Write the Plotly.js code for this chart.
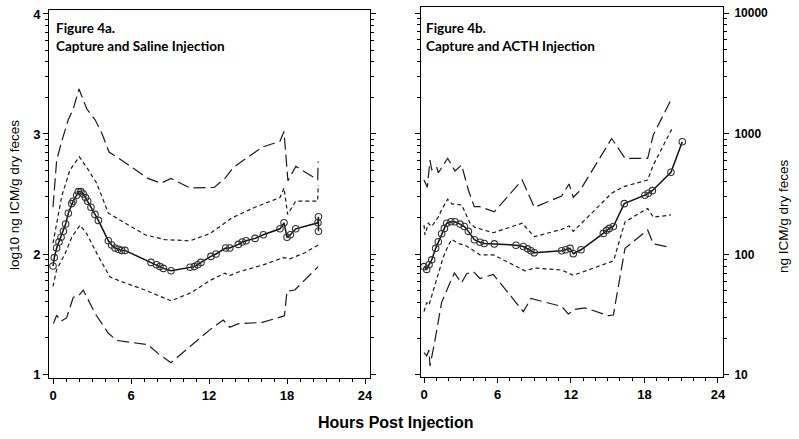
<!DOCTYPE html>
<html>
<head>
<meta charset="utf-8">
<script src="https://cdn.plot.ly/plotly-3.0.1.min.js"></script>
<style>html,body{margin:0;padding:0;background:#fff;}#chart{width:799px;height:439px;}</style>
</head>
<body>
<div id="chart"></div>
<script>
// ---------- Figure 4a: Capture and Saline Injection (log10 ng ICM/g dry feces) ----------
const aMeanX = [0,0.1,0.28,0.46,0.62,0.8,0.97,1.18,1.44,1.55,1.82,1.95,2.15,2.33,2.5,2.67,2.92,3.23,3.49,4.26,4.51,4.77,5.03,5.28,5.54,7.54,7.97,8.23,8.49,9.08,10.54,10.87,11.13,11.38,12.15,12.54,13.28,13.6,14.26,14.56,14.85,15.54,16.18,17.46,17.77,18.0,18.26,18.67,20.38,20.42,20.42];
const aMeanY = [1.90,1.97,2.05,2.10,2.14,2.19,2.25,2.34,2.42,2.44,2.49,2.52,2.52,2.50,2.47,2.44,2.39,2.33,2.28,2.11,2.075,2.05,2.04,2.03,2.03,1.93,1.91,1.895,1.88,1.86,1.89,1.895,1.91,1.93,1.98,2.0,2.05,2.05,2.08,2.10,2.11,2.13,2.16,2.21,2.26,2.14,2.16,2.21,2.26,2.31,2.19];

const aUpInX = [0,0.67,1.3,2.03,2.72,3.36,4.26,4.9,7.08,8.6,10.54,12.08,13.74,15.54,17.46,17.77,18.05,18.67,20.36,20.4];
const aUpInY = [2.09,2.48,2.70,2.81,2.70,2.59,2.34,2.30,2.16,2.12,2.11,2.17,2.30,2.39,2.47,2.55,2.33,2.44,2.44,2.575];

const aLoInX = [0,0.28,0.92,1.44,2.08,2.59,3.49,4.38,5.03,7.08,9.08,10.67,12.08,13.23,13.6,14.26,16.18,17.72,18.23,19.38,20.4];
const aLoInY = [1.73,1.87,2.0,2.14,2.24,2.17,1.98,1.81,1.78,1.70,1.61,1.68,1.78,1.84,1.82,1.85,1.91,1.97,1.96,2.01,2.075];

const aUpOutX = [0,0.28,0.67,1.18,1.56,2.0,2.59,3.23,3.74,4.31,5.03,7.3,8.3,9.08,10.54,12.4,13.23,13.87,15.03,16.1,17.46,17.77,18.07,18.68,20.36,20.4];
const aUpOutY = [2.39,2.78,2.94,3.12,3.21,3.375,3.21,3.12,3.01,2.85,2.80,2.63,2.59,2.63,2.55,2.555,2.63,2.72,2.81,2.89,2.94,3.02,2.61,2.73,2.62,2.77];

const aLoOutX = [0.03,0.28,0.62,1.05,1.56,1.95,2.33,3.23,4.26,4.9,7.3,8.1,9.08,10.7,12.08,13.1,13.6,14.26,16.1,17.8,18.0,18.6,20.4];
const aLoOutY = [1.42,1.49,1.44,1.47,1.64,1.65,1.70,1.505,1.34,1.28,1.245,1.17,1.095,1.24,1.37,1.45,1.39,1.42,1.43,1.485,1.69,1.70,1.895];

// ---------- Figure 4b: Capture and ACTH Injection (ng ICM/g dry feces) ----------
const bMeanX = [0,0.22,0.41,0.63,0.95,1.17,1.44,1.66,1.85,2.2,2.53,2.94,3.29,3.62,4.11,4.57,4.92,5.74,7.51,8.11,8.46,8.73,9.0,11.24,11.57,11.92,12.19,12.82,14.64,14.91,15.13,15.46,16.35,18.04,18.31,18.64,20.16,21.09];
const bMeanY = [79,75,82,90,112,127,148,164,181,186,186,178,170,155,132,126,123,122,119,116,111,107,103,107,109,112,101,109,149,158,164,170,263,309,321,337,479,857];

const bUpInX = [0,0.08,0.35,0.63,0.9,1.17,1.44,1.93,2.31,3.07,3.76,4.16,5.66,8.02,9.0,11.24,11.84,12.19,13.14,15.32,16.27,18.26,18.72,20.22];
const bUpInY = [175,145,181,170,186,204,234,286,261,257,181,167,151,181,140,161,172,155,193,321,363,413,550,1086];

const bLoInX = [0,0.22,0.41,1.03,1.58,1.99,2.26,2.8,3.35,3.89,4.57,5.66,8.24,9.06,11.24,12.19,15.32,15.5,16.41,18.26,18.72,20.16];
const bLoInY = [33.5,40,38,61,95,119,133,123,119,110,99,99,73,77,74,67,87,90,186,240,203,212];

const bUpOutX = [0,0.27,0.49,0.63,1.03,1.17,1.93,2.53,3.07,3.62,4.11,4.57,5.74,8.02,9.0,11.24,11.84,12.19,12.73,15.32,16.41,18.26,18.72,20.22];
const bUpOutY = [413,360,603,501,532,474,625,490,550,341,248,248,225,413,245,304,383,297,337,912,625,625,975,1963];

const bLoOutX = [0,0.22,0.41,0.49,0.9,1.44,1.99,2.48,3.07,3.48,4.03,4.57,5.66,8.11,8.73,11.24,11.78,12.33,13.14,15.05,15.46,16.41,18.26,18.72,20.16];
const bLoOutY = [15.3,14.4,16.1,11.9,19.5,40,54,70,58,69,72,63,68,33.5,43,37,32,35,36,31,31.4,112,159,122,114];

// tick labels
const xTicks = [0,6,12,18,24];
const aYTickVals = [1,2,3,4];          // log10 ng ICM/g
const bYTickVals = [10,100,1000,10000]; // ng ICM/g

const toNg = a => a.map(v => Math.pow(10, v));
// minor (log-digit) tick positions 20..90, 200..900, 2000..9000
const logMinor = [];
[10, 100, 1000].forEach(dec => { for (let d = 2; d <= 9; d++) logMinor.push(d * dec); });

const shortDash = '4px,3px';
const longDash = '12px,5px';
const lineCol = '#1a1a1a';

function band(x, y, dash, xa, ya) {
  return {x: x, y: y, xaxis: xa, yaxis: ya, mode: 'lines', type: 'scatter',
    line: {color: lineCol, width: 1.2, dash: dash}, hoverinfo: 'skip', showlegend: false};
}
function meanTrace(x, y, xa, ya) {
  return {x: x, y: y, xaxis: xa, yaxis: ya, mode: 'lines+markers', type: 'scatter',
    line: {color: '#111', width: 1.5},
    marker: {symbol: 'circle-open', size: 6.5, color: '#333', line: {width: 1.1}},
    showlegend: false};
}

const data = [
  band(aUpOutX, toNg(aUpOutY), longDash, 'x', 'y'),
  band(aLoOutX, toNg(aLoOutY), longDash, 'x', 'y'),
  band(aUpInX, toNg(aUpInY), shortDash, 'x', 'y'),
  band(aLoInX, toNg(aLoInY), shortDash, 'x', 'y'),
  meanTrace(aMeanX, toNg(aMeanY), 'x', 'y'),
  band(bUpOutX, bUpOutY, longDash, 'x2', 'y2'),
  band(bLoOutX, bLoOutY, longDash, 'x2', 'y2'),
  band(bUpInX, bUpInY, shortDash, 'x2', 'y2'),
  band(bLoInX, bLoInY, shortDash, 'x2', 'y2'),
  meanTrace(bMeanX, bMeanY, 'x2', 'y2')
];

const tickFont = {family: 'Liberation Sans, Arial, sans-serif', size: 13, weight: 'bold', color: '#000'};

const xCommon = {
  tickmode: 'array', tickvals: xTicks, ticktext: xTicks.map(String),
  ticks: 'outside', ticklen: 5, tickwidth: 1, tickcolor: '#000',
  minor: {dtick: 1, tick0: 0, ticks: 'outside', ticklen: 3, tickcolor: '#000', tickwidth: 1},
  showline: true, linecolor: '#000', linewidth: 1, mirror: true,
  showgrid: false, zeroline: false, tickfont: tickFont, fixedrange: true
};
const yCommon = {
  type: 'log', ticks: 'outside', ticklen: 5, tickwidth: 1, tickcolor: '#000',
  minor: {tickmode: 'array', tickvals: logMinor, ticks: 'outside', ticklen: 3, tickcolor: '#000', tickwidth: 1, showgrid: false},
  showline: true, linecolor: '#000', linewidth: 1, mirror: 'allticks',
  showgrid: false, zeroline: false, tickfont: tickFont, fixedrange: true
};

const layout = {
  width: 799, height: 439,
  margin: {l: 0, r: 0, t: 7, b: 61},
  paper_bgcolor: '#fff', plot_bgcolor: '#fff',
  showlegend: false,
  xaxis: Object.assign({}, xCommon, {domain: [49/799, 370/799], range: [-0.308, 24.385], anchor: 'y'}),
  yaxis: Object.assign({}, yCommon, {domain: [0, 368/371], range: [0.967, 4.033], anchor: 'x',
    tickmode: 'array', tickvals: toNg(aYTickVals), ticktext: aYTickVals.map(String)}),
  xaxis2: Object.assign({}, xCommon, {domain: [421/799, 723/799], range: [-0.245, 24.41], anchor: 'y2'}),
  yaxis2: Object.assign({}, yCommon, {domain: [1/371, 1], range: [0.983, 4.05], anchor: 'x2', side: 'right',
    tickmode: 'array', tickvals: bYTickVals, ticktext: bYTickVals.map(String), ticklabelstandoff: 3,
    tickfont: Object.assign({}, tickFont, {size: 12})}),
  annotations: [
    {text: 'Figure 4a.', xref: 'paper', yref: 'paper', x: 54/799, y: (378-18)/371, xanchor: 'left', yanchor: 'top', showarrow: false,
      font: {family: 'Lato, sans-serif', size: 13.5, weight: 'bold', color: '#000'}},
    {text: 'Capture and Saline Injection', xref: 'paper', yref: 'paper', x: 54/799, y: (378-36)/371, xanchor: 'left', yanchor: 'top', showarrow: false,
      font: {family: 'Lato, sans-serif', size: 13.5, weight: 'bold', color: '#000'}},
    {text: 'Figure 4b.', xref: 'paper', yref: 'paper', x: 424/799, y: (378-18)/371, xanchor: 'left', yanchor: 'top', showarrow: false,
      font: {family: 'Lato, sans-serif', size: 13.5, weight: 'bold', color: '#000'}},
    {text: 'Capture and ACTH Injection', xref: 'paper', yref: 'paper', x: 424/799, y: (378-36)/371, xanchor: 'left', yanchor: 'top', showarrow: false,
      font: {family: 'Lato, sans-serif', size: 13.5, weight: 'bold', color: '#000'}},
    {text: 'Hours Post Injection', xref: 'paper', yref: 'paper', x: 396/799, y: (378-422)/371, xanchor: 'center', yanchor: 'middle', showarrow: false,
      font: {family: 'Liberation Sans, Arial, sans-serif', size: 16, weight: 'bold', color: '#000'}},
    {text: 'log10 ng ICM/g dry feces', xref: 'paper', yref: 'paper', x: 15/799, y: (378-195)/371, xanchor: 'center', yanchor: 'middle', textangle: -90, showarrow: false,
      font: {family: 'Liberation Sans, Arial, sans-serif', size: 13.5, color: '#000'}},
    {text: 'ng ICM/g dry feces', xref: 'paper', yref: 'paper', x: 784/799, y: (378-216)/371, xanchor: 'center', yanchor: 'middle', textangle: -90, showarrow: false,
      font: {family: 'Liberation Sans, Arial, sans-serif', size: 13.5, color: '#000'}}
  ]
};

Plotly.newPlot('chart', data, layout, {displayModeBar: false, staticPlot: true});
</script>
</body>
</html>
